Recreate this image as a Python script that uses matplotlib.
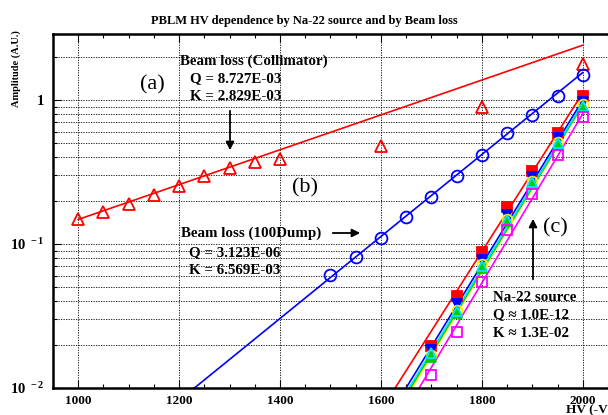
import matplotlib
matplotlib.use("Agg")
import matplotlib.pyplot as plt
from matplotlib.ticker import MultipleLocator, LogLocator, NullFormatter, FixedLocator, FixedFormatter

plt.rcParams['font.family'] = ['Liberation Serif', 'DejaVu Serif']
plt.rcParams['mathtext.fontset'] = 'custom'
plt.rcParams['mathtext.rm'] = 'Liberation Serif'
plt.rcParams['mathtext.bf'] = 'Liberation Serif:bold'

# beam loss (collimator) - red open triangles
coll_hv = [1000, 1050, 1100, 1150, 1200, 1250, 1300, 1350, 1400, 1600, 1800, 2000]
coll_amp = [0.149, 0.167, 0.19, 0.219, 0.253, 0.297, 0.337, 0.37, 0.39, 0.48, 0.89, 1.78]
coll_fit_hv = [1000, 2000]
coll_fit_amp = [0.148, 2.4]

# beam loss (100Dump) - blue open circles
dump_hv = [1500, 1550, 1600, 1650, 1700, 1750, 1800, 1850, 1900, 1950, 2000]
dump_amp = [0.061, 0.081, 0.110, 0.154, 0.212, 0.297, 0.415, 0.59, 0.787, 1.07, 1.50]
dump_fit_hv = [1200, 2000]
dump_fit_amp = [0.0082, 1.55]

# Na-22 source, several detectors
na_hv = [1700, 1750, 1800, 1850, 1900, 1950, 2000]
na_red = [0.0195, 0.0435, 0.088, 0.181, 0.321, 0.59, 1.07]
na_blue = [0.0185, 0.038, 0.077, 0.160, 0.29, 0.54, 0.97]
na_yellow = [0.017, 0.035, 0.073, 0.150, 0.275, 0.51, 0.93]
na_green = [0.0165, 0.033, 0.068, 0.145, 0.265, 0.49, 0.90]
na_cyan = [0.0175, 0.034, 0.070, 0.147, 0.268, 0.50, 0.91]
na_magenta = [0.0123, 0.0245, 0.0545, 0.125, 0.222, 0.415, 0.76]
na_fit_hv = [1600, 2000]
na_fit_red = [0.0070, 1.12]
na_fit_blue = [0.0052, 1.0]
na_fit_cyan = [0.0048, 0.95]
na_fit_green = [0.0046, 0.93]
na_fit_yellow = [0.0044, 0.92]
na_fit_magenta = [0.0036, 0.80]

W, H = 608, 415
fig = plt.figure(figsize=(W / 100, H / 100), dpi=100)
ax = fig.add_axes([53 / W, (H - 388) / H, 1 - 53 / W, (388 - 34) / H])

def px(x, y):
    return (x / W, 1 - y / H)

# grid first
ax.set_yscale('log')
ax.set_xlim(950, 2050)
ax.set_ylim(0.01, 2.87)
ax.xaxis.set_major_locator(MultipleLocator(200))
ax.xaxis.set_minor_locator(MultipleLocator(50))
ax.yaxis.set_major_locator(FixedLocator([0.01, 0.1, 1]))
ax.yaxis.set_major_formatter(FixedFormatter([r'$\mathbf{10^{\ -2}}$', r'$\mathbf{10^{\ -1}}$', r'$\mathbf{1}$']))
ax.yaxis.set_minor_locator(LogLocator(base=10, subs=range(2, 10)))
ax.yaxis.set_minor_formatter(NullFormatter())
ax.grid(True, which='major', axis='x', color='black', linestyle=(0, (1.5, 1.5)), linewidth=0.6)
ax.grid(True, which='both', axis='y', color='black', linestyle=(0, (1.5, 1.5)), linewidth=0.6)
ax.set_axisbelow(True)

# collimator
ax.plot(coll_fit_hv, coll_fit_amp, color='red', lw=1.2)
ax.plot(coll_hv, coll_amp, ls='none', marker='^', ms=8.5, mfc='none', mec='red', mew=1.3)

# 100Dump
ax.plot(dump_fit_hv, dump_fit_amp, color='blue', lw=1.2)
ax.plot(dump_hv, dump_amp, ls='none', marker='o', ms=8.5, mfc='none', mec='blue', mew=1.3)

# Na-22
na_sets = [
    (na_red, na_fit_red, 'red', 's', True),
    (na_blue, na_fit_blue, 'blue', 'v', True),
    (na_yellow, na_fit_yellow, '#ffee00', 'o', False),
    (na_green, na_fit_green, '#00cc00', '^', True),
    (na_cyan, na_fit_cyan, '#00e5ff', '^', False),
    (na_magenta, na_fit_magenta, '#ff00ff', 's', False),
]
for vals, fit, col, mk, filled in na_sets:
    ax.plot(na_fit_hv, fit, color=col, lw=1.2)
for vals, fit, col, mk, filled in na_sets:
    ax.plot(na_hv, vals, ls='none', marker=mk, ms=7, mfc=col if filled else 'none',
            mec=col, mew=1.3)

# axes styling
for s in ['left', 'bottom', 'top']:
    ax.spines[s].set_linewidth(1.8)
ax.spines['right'].set_visible(False)
ax.tick_params(which='both', direction='in', top=True, right=False)
ax.tick_params(which='major', length=6, width=0.8)
ax.tick_params(which='minor', length=3, width=0.8)
ax.tick_params(axis='x', labelsize=9.5, pad=5)
ax.tick_params(axis='y', labelsize=10.5, pad=6)
for lab in ax.get_xticklabels():
    lab.set_fontweight('bold')

fig.text(*px(304, 21), 'PBLM HV dependence by Na-22 source and by Beam loss',
         ha='center', va='center', fontsize=9, fontweight='bold')
fig.text(*px(16, 69), 'Amplitude (A.U.)', rotation=90, ha='center', va='center',
         fontsize=7.5, fontweight='bold')
fig.text(*px(566, 410), 'HV (-V)', ha='left', va='center', fontsize=9.5, fontweight='bold')

# annotations
tb = dict(ha='left', va='center', fontsize=10.8, fontweight='bold')
fig.text(*px(180, 61), 'Beam loss (Collimator)', **tb)
fig.text(*px(190, 79), 'Q = 8.727E-03', **tb)
fig.text(*px(190, 97), 'K = 2.829E-03', **tb)
fig.text(*px(152, 85), '(a)', ha='center', va='center', fontsize=16)
ax.annotate('', xy=px(230, 153), xycoords='figure fraction', xytext=px(230, 108),
            textcoords='figure fraction',
            arrowprops=dict(arrowstyle='-|>', color='black', lw=1.3, mutation_scale=12))

fig.text(*px(181, 233), 'Beam loss (100Dump)', **tb)
fig.text(*px(189, 253), 'Q = 3.123E-06', **tb)
fig.text(*px(189, 271), 'K = 6.569E-03', **tb)
fig.text(*px(305, 188), '(b)', ha='center', va='center', fontsize=16)
ax.annotate('', xy=px(363, 233), xycoords='figure fraction', xytext=px(330, 233),
            textcoords='figure fraction',
            arrowprops=dict(arrowstyle='-|>', color='black', lw=1.3, mutation_scale=12))

fig.text(*px(493, 297), 'Na-22 source', **tb)
fig.text(*px(493, 315), 'Q \u2248 1.0E-12', **tb)
fig.text(*px(493, 333), 'K \u2248 1.3E-02', **tb)
fig.text(*px(555, 228), '(c)', ha='center', va='center', fontsize=16)
ax.annotate('', xy=px(533, 216), xycoords='figure fraction', xytext=px(533, 282),
            textcoords='figure fraction',
            arrowprops=dict(arrowstyle='-|>', color='black', lw=1.3, mutation_scale=12))

fig.savefig('out.png', dpi=100)
